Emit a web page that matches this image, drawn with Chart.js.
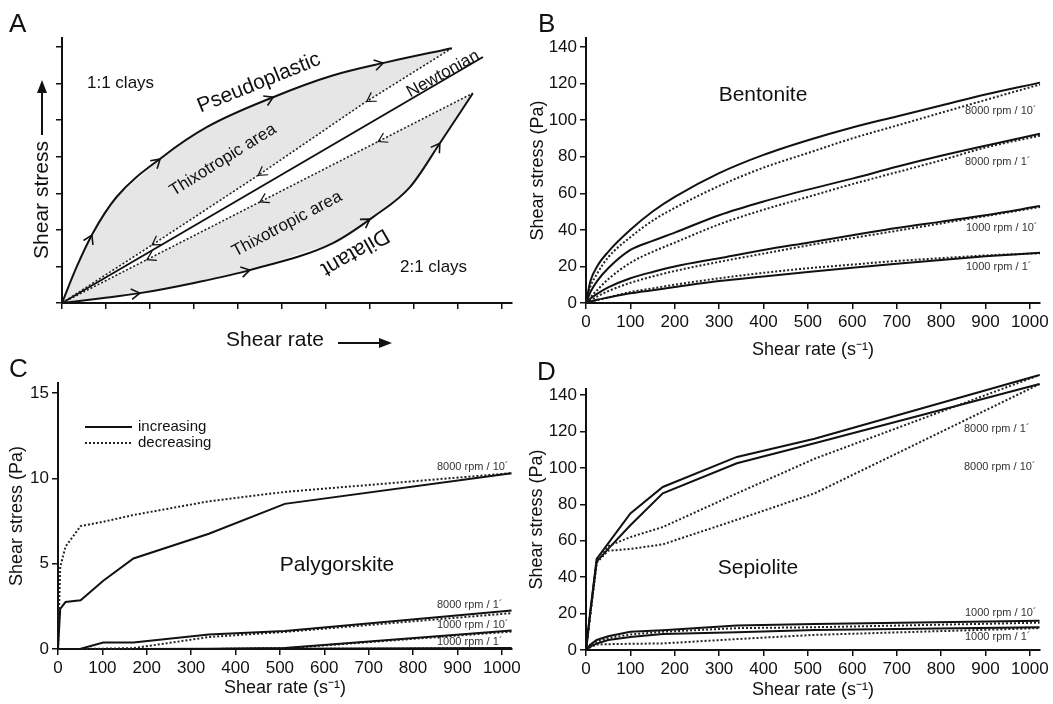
<!DOCTYPE html>
<html>
<head>
<meta charset="utf-8">
<script src="https://cdn.jsdelivr.net/npm/chart.js@4/dist/chart.umd.min.js"></script>
<style>
  html, body { margin: 0; padding: 0; background: #fff; }
  #wrap { position: relative; width: 1053px; height: 704px; overflow: hidden; }
  canvas { position: absolute; left: 0; top: 0; }
</style>
</head>
<body>
<div id="wrap">
  <canvas id="panelA" width="1053" height="704"></canvas>
  <canvas id="panelB" width="1053" height="704"></canvas>
  <canvas id="panelC" width="1053" height="704"></canvas>
  <canvas id="panelD" width="1053" height="704"></canvas>
</div>
<script>
// ---- A: schematic flow curves (arbitrary units) ----
const pseudoX = [0, 0.33, 0.7, 1.24, 2.3, 3.29, 4.8, 6.17, 7.39, 8.86];
const pseudoY = [0, 0.98, 1.91, 2.9, 4.01, 4.81, 5.63, 6.23, 6.59, 6.97];
const thixoUpX = [0, 2.0, 4.43, 6.84, 8.86];
const thixoUpY = [0, 1.55, 3.47, 5.45, 6.97];
const newtonX = [0, 9.57];
const newtonY = [0, 6.73];
const thixoLowX = [0, 9.34];
const thixoLowY = [0, 5.74];
const dilatX = [0, 0.9, 1.77, 3.0, 4.27, 6.16, 7.07, 7.91, 8.59, 9.34];
const dilatY = [0, 0.13, 0.27, 0.55, 0.9, 1.64, 2.35, 3.17, 4.37, 5.74];
// where the direction arrows sit (x in A units)
const pseudoArrowsAt = [0.68, 2.23, 4.8, 7.3];
const dilatArrowsAt = [1.77, 4.27, 7.0, 8.59];
const thixoUpArrowsAt = [6.93, 4.46, 2.05];
const thixoLowArrowsAt = [7.19, 4.5, 1.93];

// ---- B: bentonite ----
const rateB = [0, 10, 25, 50, 100, 150, 200, 300, 400, 500, 600, 700, 800, 900, 1023];
const bent8k10Inc = [0, 12, 20, 28, 40, 50, 58, 71, 81, 89, 96, 102, 108, 114, 120.5];
const bent8k10Dec = [0, 9, 16, 25, 36, 45, 52, 64, 74, 82, 90, 97, 104, 111, 119.5];
const bent8k1Inc = [0, 6, 12, 19, 29, 34, 38.5, 48, 55.5, 62, 68, 74.5, 80.5, 86, 92.5];
const bent8k1Dec = [0, 3, 7, 13, 22, 28, 33, 43, 51, 58, 65, 71.5, 78, 85, 91.5];
const bent1k10Inc = [0, 2.5, 5, 8.5, 13.5, 17, 20, 24.5, 29, 33, 37, 41, 44.5, 48, 53];
const bent1k10Dec = [0, 1.5, 3.5, 6.5, 11, 14.5, 17.5, 22.5, 27, 31.5, 35.5, 39.5, 43.5, 47.5, 52.5];
const bent1k1Inc = [0, 0.8, 1.8, 3, 5.3, 7, 8.7, 12, 14.5, 17, 19.3, 21.5, 23.5, 25.5, 27.5];
const bent1k1Dec = [0, 0.6, 1.5, 3, 6, 8, 10, 13.5, 16.5, 19, 21, 23, 24.5, 26, 27.2];

// ---- C: palygorskite ----
const rateC = [0, 5, 17, 51, 102, 170, 340, 511, 1022];
const paly8k10Inc = [0, 2.35, 2.75, 2.85, 4.0, 5.3, 6.75, 8.5, 10.3];
const paly8k10Dec = [0, 4.8, 6.0, 7.2, 7.45, 7.85, 8.65, 9.2, 10.3];
const paly8k1Inc = [0, 0, 0, 0.02, 0.38, 0.38, 0.85, 1.05, 2.25];
const paly8k1Dec = [0, 0, 0, 0, 0.02, 0.05, 0.7, 1.0, 2.1];
const paly1k10Inc = [0, 0, 0, 0, 0, 0, 0.02, 0.06, 1.08];
const paly1k10Dec = [0, 0, 0, 0, 0, 0, 0, 0.04, 1.02];
const paly1k1Inc = [0, 0, 0, 0, 0, 0, 0, 0.01, 0.06];
const paly1k1Dec = [0, 0, 0, 0, 0, 0, 0, 0, 0.04];

// ---- D: sepiolite ----
const rateD = [0, 10, 24, 50, 100, 173, 340, 515, 1022];
const sep8k1Inc = [0, 22, 50, 58.5, 75, 89.5, 106, 116, 151];
const sep8k10Inc = [0, 21, 48.5, 55.5, 68.5, 86, 102.5, 113.5, 146];
const sep8k1Dec = [0, 20, 48, 57, 62, 67.5, 86, 105, 151];
const sep8k10Dec = [0, 20, 48, 54.5, 55.5, 58, 71.5, 86, 146];
const sep1k10Inc = [0, 3, 5.5, 7.5, 10, 10.8, 13.5, 14.3, 16];
const sep1k10Dec = [0, 2.5, 4.5, 6.5, 8.5, 10, 12, 12.5, 15];
const sep1k1Inc = [0, 2, 3.5, 5.5, 7.2, 8.8, 9.8, 11, 12.5];
const sep1k1Dec = [0, 1.5, 3, 3.2, 3.4, 3.6, 6, 8.3, 12];

const FONT = "'Liberation Sans', Arial, Helvetica, sans-serif";
const INK = '#111';
Chart.defaults.font.family = FONT;
Chart.defaults.color = INK;

const pts = (xs, ys) => xs.map((x, i) => ({x: x, y: ys[i]}));

function solid(xs, ys, smooth) {
  return {data: pts(xs, ys), showLine: true, borderColor: INK, borderWidth: 2, pointRadius: 0,
          fill: false, order: 1, clip: false,
          cubicInterpolationMode: smooth ? 'monotone' : 'default', tension: 0};
}
function dotted(xs, ys, smooth, w) {
  const d = solid(xs, ys, smooth);
  d.borderDash = [2, 2];
  d.borderColor = '#222';
  d.borderWidth = w || 2;
  return d;
}

// axis helper; size = fixed box thickness so chart areas line up with the figure
function axis(o) {
  return {
    type: 'linear', min: 0, max: o.max,
    afterFit: s => {
      if (s.isHorizontal()) s.height = o.size; else s.width = o.size;
      s.paddingLeft = s.paddingRight = s.paddingTop = s.paddingBottom = 0;
    },
    border: {display: true, color: INK, width: 2},
    grid: {drawOnChartArea: false, drawTicks: true, tickLength: 6, color: INK, lineWidth: 1.5},
    ticks: {stepSize: o.step, includeBounds: false, display: o.labels !== false, color: INK,
            font: {size: 17}, padding: 3, maxRotation: 0, autoSkip: false,
            callback: v => String(v)},
    title: o.title ? {display: true, text: o.title, color: INK, font: {size: 18}, padding: 0} : {display: false}
  };
}

function layoutFor(area, xH, yW) {
  return {padding: {left: area.l - yW, right: 1053 - area.r, top: area.t, bottom: 704 - area.b - xH}};
}

function drawText(ctx, n) {
  ctx.save();
  ctx.translate(n.x, n.y);
  if (n.rot) ctx.rotate(n.rot * Math.PI / 180);
  ctx.font = (n.size || 17) + 'px ' + FONT;
  ctx.fillStyle = n.color || INK;
  ctx.textAlign = n.align || 'center';
  ctx.textBaseline = n.base || 'middle';
  ctx.fillText(n.t, 0, 0);
  ctx.restore();
}

function notes(items, extra) {
  return {
    id: 'notes',
    afterDraw(chart) {
      const ctx = chart.ctx;
      items.forEach(n => drawText(ctx, n));
      if (extra) extra(chart, ctx);
    }
  };
}

function makeChart(id, datasets, area, xs, ys, plugin) {
  return new Chart(document.getElementById(id), {
    type: 'scatter',
    data: {datasets: datasets},
    options: {
      responsive: false, devicePixelRatio: 1, animation: false,
      layout: layoutFor(area, xs.size, ys.size),
      scales: {x: axis(xs), y: axis(ys)},
      plugins: {legend: {display: false}, tooltip: {enabled: false}}
    },
    plugins: [plugin]
  });
}

// ---------- Panel A ----------
function chevron(ctx, x, y, ang, len, lw) {
  const sp = 0.55;
  ctx.save();
  ctx.translate(x, y);
  ctx.rotate(ang);
  ctx.beginPath();
  ctx.moveTo(-len * Math.cos(sp), -len * Math.sin(sp));
  ctx.lineTo(0, 0);
  ctx.lineTo(-len * Math.cos(sp), len * Math.sin(sp));
  ctx.lineWidth = lw;
  ctx.strokeStyle = INK;
  ctx.stroke();
  ctx.restore();
}

function curveArrows(chart, ctx, xs, ys, at, dir, lw) {
  const sx = chart.scales.x, sy = chart.scales.y;
  at.forEach(v => {
    let i = 1;
    while (i < xs.length - 1 && xs[i] < v) i++;
    const f = (v - xs[i - 1]) / (xs[i] - xs[i - 1]);
    const yv = ys[i - 1] + f * (ys[i] - ys[i - 1]);
    const dx = sx.getPixelForValue(xs[i]) - sx.getPixelForValue(xs[i - 1]);
    const dy = sy.getPixelForValue(ys[i]) - sy.getPixelForValue(ys[i - 1]);
    let ang = Math.atan2(dy, dx);
    if (dir < 0) ang += Math.PI;
    chevron(ctx, sx.getPixelForValue(v), sy.getPixelForValue(yv), ang, 10, lw);
  });
}

function axisArrow(ctx, x1, y1, x2, y2) {
  const ang = Math.atan2(y2 - y1, x2 - x1);
  ctx.save();
  ctx.strokeStyle = INK; ctx.fillStyle = INK; ctx.lineWidth = 2;
  ctx.beginPath();
  ctx.moveTo(x1, y1);
  ctx.lineTo(x2 - 8 * Math.cos(ang), y2 - 8 * Math.sin(ang));
  ctx.stroke();
  ctx.translate(x2, y2); ctx.rotate(ang);
  ctx.beginPath();
  ctx.moveTo(0, 0); ctx.lineTo(-13, -5); ctx.lineTo(-13, 5); ctx.closePath();
  ctx.fill();
  ctx.restore();
}

const leafColor = '#e6e6e6';
const upperLeaf = pts(pseudoX, pseudoY).concat(pts(thixoUpX, thixoUpY).reverse());
const lowerLeaf = pts(thixoLowX, thixoLowY).concat(pts(dilatX, dilatY).reverse());
const leaf = d => ({data: d, showLine: true, fill: 'shape', backgroundColor: leafColor,
                    borderColor: 'rgba(0,0,0,0)', borderWidth: 0, pointRadius: 0, order: 3, tension: 0});

makeChart('panelA', [
  solid(pseudoX, pseudoY, true),
  dotted(thixoUpX, thixoUpY, false, 1.6),
  solid(newtonX, newtonY, false),
  dotted(thixoLowX, thixoLowY, false, 1.6),
  solid(dilatX, dilatY, true),
  leaf(upperLeaf),
  leaf(lowerLeaf)
], {l: 62, r: 512, t: 38, b: 303},
  {max: 10.23, step: 1, size: 30, labels: false},
  {max: 7.25, step: 1, size: 40, labels: false},
  notes([
    {t: 'A', x: 9, y: 32, size: 26, align: 'left', base: 'alphabetic'},
    {t: '1:1 clays', x: 87, y: 83, size: 17, align: 'left'},
    {t: '2:1 clays', x: 400, y: 267, size: 17, align: 'left'},
    {t: 'Pseudoplastic', x: 259, y: 83, size: 21, rot: -22},
    {t: 'Newtonian', x: 443, y: 74, size: 17, rot: -29},
    {t: 'Thixotropic area', x: 223, y: 160, size: 17, rot: -32},
    {t: 'Thixotropic area', x: 287, y: 224, size: 17, rot: -28},
    {t: 'Dilatant', x: 355, y: 252, size: 22, rot: 150},
    {t: 'Shear stress', x: 42, y: 200, size: 21, rot: -90},
    {t: 'Shear rate', x: 275, y: 340, size: 21}
  ], (chart, ctx) => {
    curveArrows(chart, ctx, pseudoX, pseudoY, pseudoArrowsAt, 1, 1.6);
    curveArrows(chart, ctx, dilatX, dilatY, dilatArrowsAt, 1, 1.6);
    curveArrows(chart, ctx, thixoUpX, thixoUpY, thixoUpArrowsAt, -1, 1.2);
    curveArrows(chart, ctx, thixoLowX, thixoLowY, thixoLowArrowsAt, -1, 1.2);
    axisArrow(ctx, 42, 135, 42, 80);
    axisArrow(ctx, 338, 343, 392, 343);
  })
);

// ---------- Panel B ----------
makeChart('panelB', [
  solid(rateB, bent8k10Inc, true), dotted(rateB, bent8k10Dec, true),
  solid(rateB, bent8k1Inc, true), dotted(rateB, bent8k1Dec, true),
  solid(rateB, bent1k10Inc, true), dotted(rateB, bent1k10Dec, true),
  solid(rateB, bent1k1Inc, true), dotted(rateB, bent1k1Dec, true)
], {l: 586, r: 1040, t: 38, b: 303},
  {max: 1023, step: 100, size: 58, title: 'Shear rate (s\u207B\u00B9)'},
  {max: 144.9, step: 20, size: 59, title: 'Shear stress (Pa)'},
  notes([
    {t: 'B', x: 538, y: 32, size: 26, align: 'left', base: 'alphabetic'},
    {t: 'Bentonite', x: 763, y: 95, size: 21},
    {t: '8000 rpm / 10\u00B4', x: 965, y: 111, size: 11, align: 'left', color: '#333'},
    {t: '8000 rpm / 1\u00B4', x: 965, y: 162, size: 11, align: 'left', color: '#333'},
    {t: '1000 rpm / 10\u00B4', x: 966, y: 228, size: 11, align: 'left', color: '#333'},
    {t: '1000 rpm / 1\u00B4', x: 966, y: 267, size: 11, align: 'left', color: '#333'}
  ])
);

// ---------- Panel C ----------
makeChart('panelC', [
  solid(rateC, paly8k10Inc), dotted(rateC, paly8k10Dec),
  solid(rateC, paly8k1Inc), dotted(rateC, paly8k1Dec),
  solid(rateC, paly1k10Inc), dotted(rateC, paly1k10Dec),
  solid(rateC, paly1k1Inc), dotted(rateC, paly1k1Dec)
], {l: 58, r: 512, t: 383, b: 649},
  {max: 1023, step: 100, size: 50, title: 'Shear rate (s\u207B\u00B9)'},
  {max: 15.58, step: 5, size: 52, title: 'Shear stress (Pa)'},
  notes([
    {t: 'C', x: 9, y: 377, size: 26, align: 'left', base: 'alphabetic'},
    {t: 'Palygorskite', x: 337, y: 565, size: 21},
    {t: 'increasing', x: 138, y: 427, size: 15, align: 'left'},
    {t: 'decreasing', x: 138, y: 443, size: 15, align: 'left'},
    {t: '8000 rpm / 10\u00B4', x: 437, y: 467, size: 11, align: 'left', color: '#333'},
    {t: '8000 rpm / 1\u00B4', x: 437, y: 605, size: 11, align: 'left', color: '#333'},
    {t: '1000 rpm / 10\u00B4', x: 437, y: 625, size: 11, align: 'left', color: '#333'},
    {t: '1000 rpm / 1\u00B4', x: 437, y: 642, size: 11, align: 'left', color: '#333'}
  ], (chart, ctx) => {
    // legend swatches
    ctx.save();
    ctx.strokeStyle = INK; ctx.lineWidth = 2;
    ctx.beginPath(); ctx.moveTo(85, 427); ctx.lineTo(132, 427); ctx.stroke();
    ctx.setLineDash([2, 2]); ctx.strokeStyle = '#222';
    ctx.beginPath(); ctx.moveTo(85, 443); ctx.lineTo(132, 443); ctx.stroke();
    ctx.restore();
  })
);

// ---------- Panel D ----------
makeChart('panelD', [
  solid(rateD, sep8k1Inc), dotted(rateD, sep8k1Dec),
  solid(rateD, sep8k10Inc), dotted(rateD, sep8k10Dec),
  solid(rateD, sep1k10Inc), dotted(rateD, sep1k10Dec),
  solid(rateD, sep1k1Inc), dotted(rateD, sep1k1Dec)
], {l: 586, r: 1040, t: 389, b: 650},
  {max: 1023, step: 100, size: 51, title: 'Shear rate (s\u207B\u00B9)'},
  {max: 143.3, step: 20, size: 60, title: 'Shear stress (Pa)'},
  notes([
    {t: 'D', x: 537, y: 380, size: 26, align: 'left', base: 'alphabetic'},
    {t: 'Sepiolite', x: 758, y: 568, size: 21},
    {t: '8000 rpm / 1\u00B4', x: 964, y: 429, size: 11, align: 'left', color: '#333'},
    {t: '8000 rpm / 10\u00B4', x: 964, y: 467, size: 11, align: 'left', color: '#333'},
    {t: '1000 rpm / 10\u00B4', x: 965, y: 613, size: 11, align: 'left', color: '#333'},
    {t: '1000 rpm / 1\u00B4', x: 965, y: 637, size: 11, align: 'left', color: '#333'}
  ])
);
</script>
</body>
</html>
